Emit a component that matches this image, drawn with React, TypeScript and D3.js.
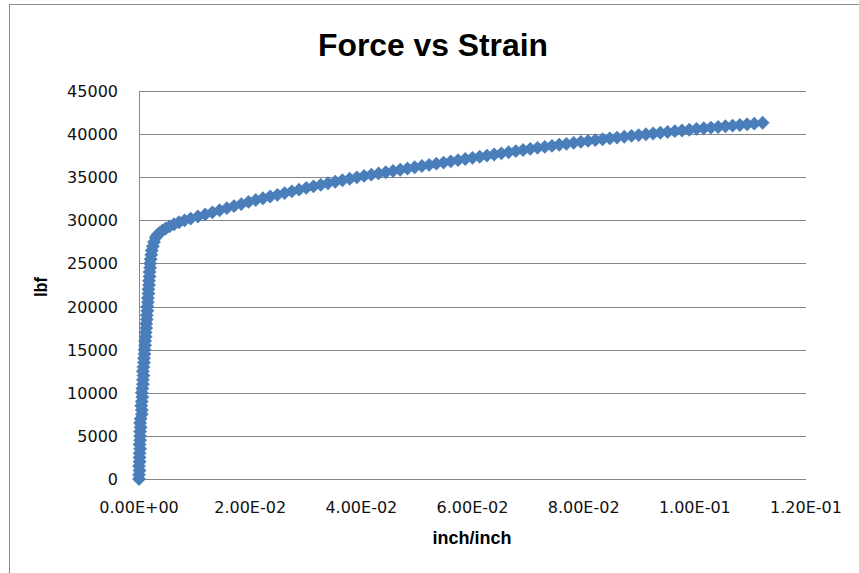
import React from 'react';
import * as d3 from 'd3';

// Force vs Strain readings
const strain: number[] = [
  0, 0.0000, 0.0001, 0.0000, 0.0001, 0.0001, 0.0001, 0.0002, 0.0001, 0.0002,
  0.0002, 0.0002, 0.0003, 0.0002, 0.0003, 0.0005, 0.0005, 0.0004, 0.0005, 0.0006,
  0.0005, 0.0006, 0.0007, 0.0007, 0.0008, 0.0007, 0.0008, 0.0009, 0.0009, 0.0010,
  0.0010, 0.0011, 0.0011, 0.0012, 0.0012, 0.0013, 0.0013, 0.0014, 0.0014, 0.0015,
  0.0015, 0.0016, 0.0016, 0.0017, 0.0017, 0.0018, 0.0018, 0.0019, 0.0019, 0.0020,
  0.0020, 0.0021, 0.0022, 0.0023, 0.0025, 0.0027, 0.0030,
  0.0033, 0.0037, 0.0042, 0.0048, 0.0055, 0.0063, 0.0072, 0.0082, 0.0093,
  0.0106, 0.0119, 0.0132, 0.0145, 0.0158, 0.0171, 0.0184, 0.0197, 0.0210, 0.0223,
  0.0236, 0.0249, 0.0262, 0.0275, 0.0288, 0.0301, 0.0314, 0.0327, 0.0340, 0.0353,
  0.0366, 0.0379, 0.0392, 0.0405, 0.0418, 0.0431, 0.0444, 0.0457, 0.0470, 0.0483,
  0.0496, 0.0509, 0.0522, 0.0535, 0.0548, 0.0561, 0.0574, 0.0587, 0.0600, 0.0613,
  0.0626, 0.0639, 0.0652, 0.0665, 0.0678, 0.0691, 0.0704, 0.0717, 0.0730, 0.0743,
  0.0756, 0.0769, 0.0782, 0.0795, 0.0808, 0.0821, 0.0834, 0.0847, 0.0860, 0.0873,
  0.0886, 0.0899, 0.0912, 0.0925, 0.0938, 0.0951, 0.0964, 0.0977, 0.0990, 0.1003,
  0.1016, 0.1029, 0.1042, 0.1055, 0.1068, 0.1081, 0.1094, 0.1107, 0.1122,
];

const force: number[] = [
  0, 500, 1000, 1500, 2000, 2500, 3000, 3500, 4000, 4500,
  5000, 5500, 6000, 6500, 7000, 7500, 8000, 8500, 9000, 9500,
  10000, 10500, 11000, 11500, 12000, 12500, 13000, 13500, 14000, 14500,
  15000, 15500, 16000, 16500, 17000, 17500, 18000, 18500, 19000, 19500,
  20000, 20500, 21000, 21500, 22000, 22500, 23000, 23500, 24000, 24500,
  25000, 25500, 26000, 26500, 27000, 27500, 28000,
  28300, 28550, 28800, 29050, 29300, 29550, 29780, 30000, 30200,
  30450, 30690, 30930, 31170, 31410, 31650, 31880, 32140, 32360, 32560,
  32760, 32960, 33160, 33360, 33560, 33760, 33940, 34120, 34300, 34470,
  34650, 34820, 34990, 35150, 35300, 35440, 35580, 35730, 35870, 36010,
  36160, 36300, 36430, 36570, 36700, 36840, 36980, 37110, 37250, 37380,
  37510, 37640, 37770, 37900, 38030, 38160, 38290, 38410, 38520, 38640,
  38760, 38870, 38990, 39100, 39210, 39310, 39400, 39500, 39600, 39700,
  39800, 39890, 39980, 40070, 40160, 40250, 40340, 40420, 40510, 40600,
  40680, 40760, 40830, 40910, 40990, 41060, 41140, 41210, 41320,
];

const xTicks = [0, 0.02, 0.04, 0.06, 0.08, 0.1, 0.12];
const xTickLabels = ['0.00E+00', '2.00E-02', '4.00E-02', '6.00E-02', '8.00E-02', '1.00E-01', '1.20E-01'];
const yTicks = [0, 5000, 10000, 15000, 20000, 25000, 30000, 35000, 40000, 45000];

const W = 859;
const H = 573;
const plot = { left: 139, right: 806, top: 91, bottom: 479 };

const App: React.FC = () => {
  const x = d3.scaleLinear().domain([0, 0.12]).range([plot.left, plot.right]);
  const y = d3.scaleLinear().domain([0, 45000]).range([plot.bottom, plot.top]);
  const diamond = d3.symbol(d3.symbolSquare, 96)()!;
  const tickFont = "'DejaVu Sans', Verdana, sans-serif";
  const boldFont = "'Liberation Sans Narrow', 'Liberation Sans', sans-serif";

  return (
    <svg width={W} height={H} style={{ display: 'block', position: 'absolute', left: 0, top: 0 }}>
      <rect x={0} y={0} width={W} height={H} fill="#fff" />
      {/* chart area border */}
      <rect x={9.5} y={4.5} width={W + 20} height={H + 20} fill="none" stroke="#8c8c8c" strokeWidth={1} />

      <text x={433} y={56} textAnchor="middle" fontFamily={boldFont} fontWeight="bold"
        fontSize={31} textLength={230} lengthAdjust="spacingAndGlyphs" fill="#000">
        Force vs Strain
      </text>

      {/* gridlines */}
      {yTicks.map(t => (
        <line key={t} x1={plot.left} x2={plot.right} y1={Math.round(y(t)) + 0.5} y2={Math.round(y(t)) + 0.5}
          stroke="#868686" strokeWidth={1} />
      ))}
      <line x1={plot.left + 0.5} x2={plot.left + 0.5} y1={plot.top} y2={plot.bottom + 1} stroke="#868686" />

      {/* y tick labels */}
      {yTicks.map(t => (
        <text key={t} x={118} y={y(t) + 6} textAnchor="end" fontFamily={tickFont} fontSize={16} fill="#111">
          {t}
        </text>
      ))}
      {/* x tick labels */}
      {xTicks.map((t, i) => (
        <text key={t} x={x(t)} y={513} textAnchor="middle" fontFamily={tickFont} fontSize={16} fill="#111">
          {xTickLabels[i]}
        </text>
      ))}

      {/* axis titles */}
      <text x={472} y={544} textAnchor="middle" fontFamily={boldFont} fontWeight="bold" fontSize={19}
        textLength={79} lengthAdjust="spacingAndGlyphs" fill="#000">
        inch/inch
      </text>
      <text transform={`translate(47,287) rotate(-90)`} textAnchor="middle" fontFamily={boldFont} fontWeight="bold"
        fontSize={18} textLength={20} lengthAdjust="spacingAndGlyphs" fill="#000">
        lbf
      </text>

      {/* markers */}
      <g fill="#4a7ebb">
        {strain.map((s, i) => (
          <path key={i} d={diamond} transform={`translate(${x(s)},${y(force[i])}) rotate(45)`} />
        ))}
      </g>
    </svg>
  );
};

export default App;
